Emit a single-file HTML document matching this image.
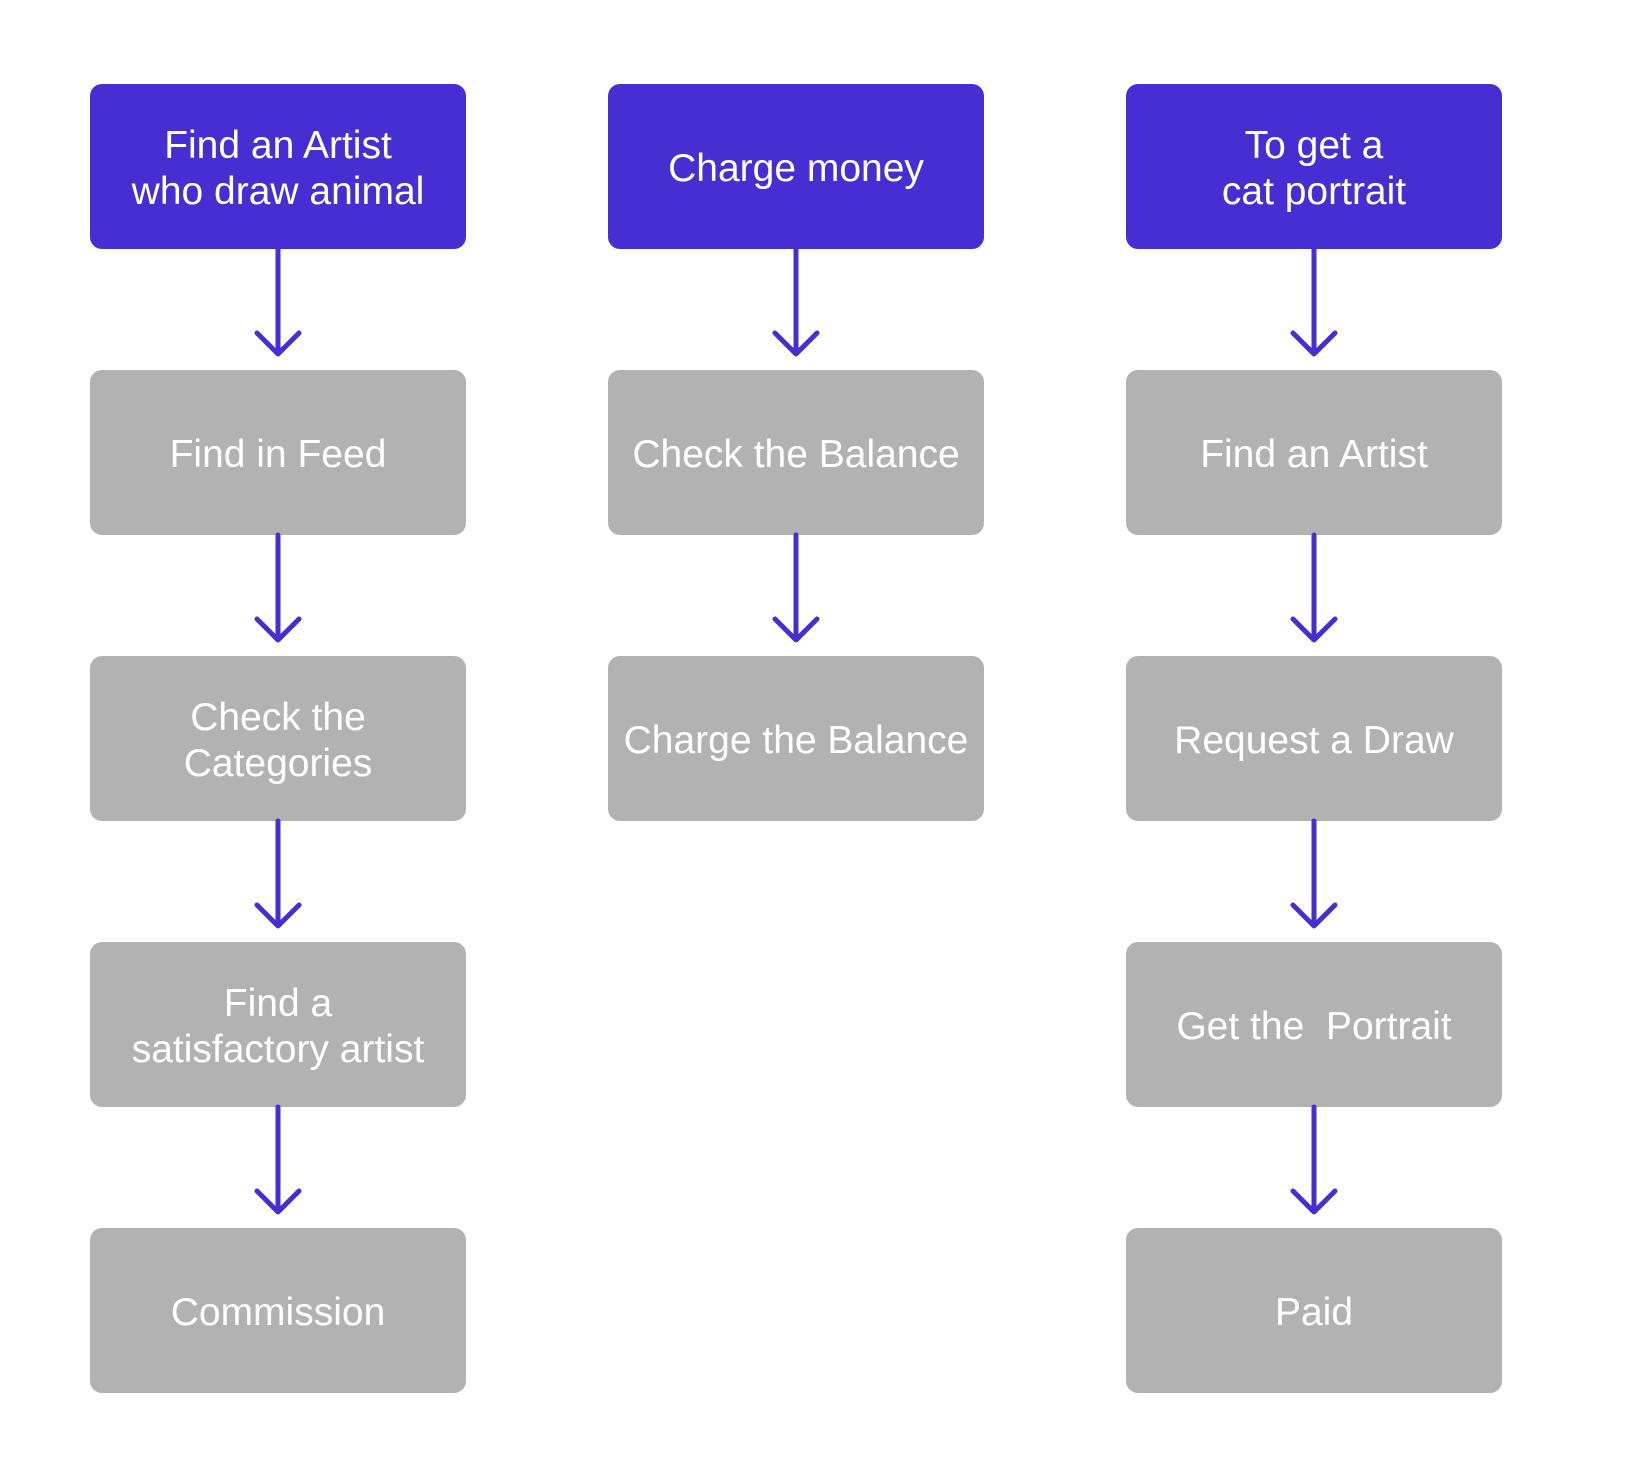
<!DOCTYPE html>
<html><head><style>
body{margin:0;width:1632px;height:1476px;background:#fff;position:relative;overflow:hidden;font-family:"Liberation Sans",sans-serif;}
.b{position:absolute;width:376px;height:165px;border-radius:12px;background:#b2b2b2;color:#fff;display:flex;align-items:center;justify-content:center;text-align:center;font-size:39px;line-height:46px;box-sizing:border-box;padding-top:4px;}
.p{background:#452fd3;}
svg{position:absolute;left:0;top:0;}
</style></head><body>
<div class="b p" style="left:90px;top:84px">Find an Artist<br>who draw animal</div>
<div class="b" style="left:90px;top:370px">Find in Feed</div>
<div class="b" style="left:90px;top:656px">Check the<br>Categories</div>
<div class="b" style="left:90px;top:942px">Find a<br>satisfactory artist</div>
<div class="b" style="left:90px;top:1228px">Commission</div>

<div class="b p" style="left:608px;top:84px">Charge money</div>
<div class="b" style="left:608px;top:370px">Check the Balance</div>
<div class="b" style="left:608px;top:656px">Charge the Balance</div>

<div class="b p" style="left:1126px;top:84px">To get a<br>cat portrait</div>
<div class="b" style="left:1126px;top:370px">Find an Artist</div>
<div class="b" style="left:1126px;top:656px">Request a Draw</div>
<div class="b" style="left:1126px;top:942px">Get the&nbsp; Portrait</div>
<div class="b" style="left:1126px;top:1228px">Paid</div>

<svg width="1632" height="1476" fill="none" stroke="#452fd3" stroke-width="5" stroke-linecap="round" stroke-linejoin="round">
<defs><g id="a"><line x1="0" y1="0" x2="0" y2="104"/><polyline points="-21,84 0,105 21,84"/></g></defs>
<use href="#a" x="278" y="249"/><use href="#a" x="278" y="535"/><use href="#a" x="278" y="821"/><use href="#a" x="278" y="1107"/>
<use href="#a" x="796" y="249"/><use href="#a" x="796" y="535"/>
<use href="#a" x="1314" y="249"/><use href="#a" x="1314" y="535"/><use href="#a" x="1314" y="821"/><use href="#a" x="1314" y="1107"/>
</svg>
</body></html>
